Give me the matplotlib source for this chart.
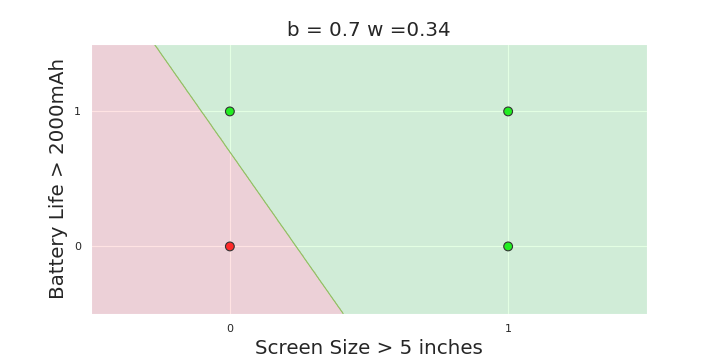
import numpy as np
import matplotlib
matplotlib.use("Agg")
import matplotlib.pyplot as plt
import seaborn as sns

sns.set_style("darkgrid")

b = 0.7
w = 0.34
xs = [0, 0, 1, 1]
ys = [0, 1, 0, 1]
labels = [0, 1, 1, 1]
xticks = [0, 1]
yticks = [0, 1]

fig = plt.figure(figsize=(7.2, 3.6), dpi=100)
ax = fig.add_axes([0.126, 0.128, 0.773, 0.75])

gx, gy = np.meshgrid(np.linspace(-0.5, 1.5, 600), np.linspace(-0.5, 1.5, 600))
z = gy - (b - gx / w)
cls = (z > 0).astype(float)
ax.contourf(gx, gy, cls, levels=[-0.5, 0.5, 1.5], colors=['#ff0000', '#00ff00'], alpha=0.11, zorder=1)
ax.contour(gx, gy, z, levels=[0], colors=['#8fc060'], linewidths=0.8, zorder=2)

pt_colors = ['#ff2a2a' if l == 0 else '#22ee22' for l in labels]
ax.scatter(xs, ys, c=pt_colors, s=40, edgecolors='#333333', linewidths=0.8, zorder=3)

ax.set_xlim(-0.5, 1.5)
ax.set_ylim(-0.5, 1.5)
ax.set_xticks(xticks)
ax.set_yticks(yticks)
ax.tick_params(labelsize=8, colors='#262626')
ax.set_xlabel("Screen Size > 5 inches", fontsize=14.3, color='#262626')
ax.set_ylabel("Battery Life > 2000mAh", fontsize=14.3, color='#262626')
ax.set_title("b = 0.7 w =0.34", fontsize=14.3, color='#262626')

fig.savefig("out.png", dpi=100)
